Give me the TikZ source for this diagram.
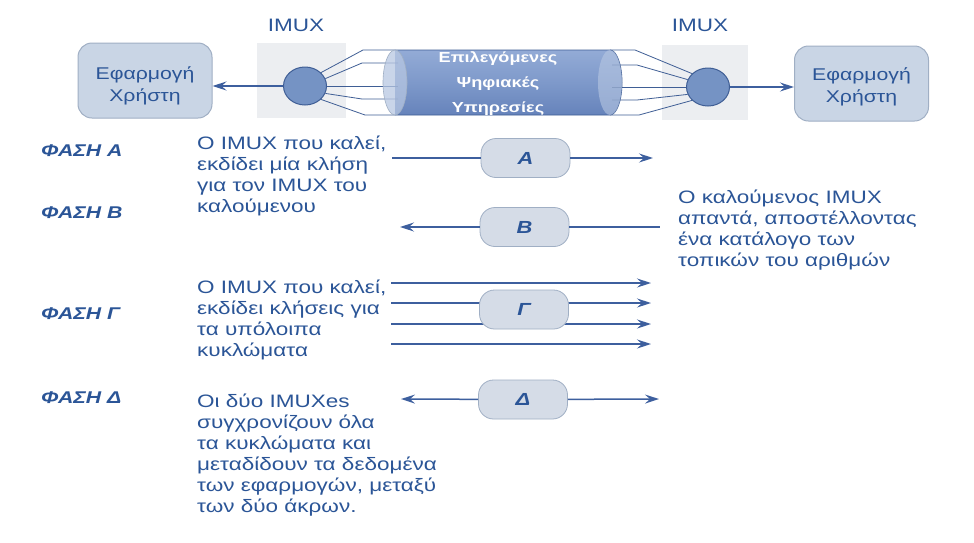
\documentclass[tikz,border=0pt]{standalone}
\usepackage{fontspec}
\setmainfont{Liberation Sans}[FakeStretch=1.25]
\usetikzlibrary{arrows.meta,shapes.geometric,calc}
\definecolor{tblue}{HTML}{2B5597}
\definecolor{lblue}{HTML}{3D5F9E}
\definecolor{boxfill}{HTML}{C9D5E5}
\definecolor{boxdraw}{HTML}{A0AFC4}
\definecolor{pillfill}{HTML}{D5DCE7}
\definecolor{ellfill}{HTML}{7593C4}
\definecolor{ellline}{HTML}{3F5E95}
\definecolor{imuxbg}{HTML}{ECEEF1}
\definecolor{cyltop}{HTML}{93ABD6}
\definecolor{cylmid}{HTML}{7E99CA}
\definecolor{cylbot}{HTML}{6683BB}
\definecolor{cylend}{HTML}{B7C7E2}
\newcommand{\fl}{\rule{0pt}{15pt}}
\tikzset{
  appbox/.style={draw=boxdraw, fill=boxfill, rounded corners=14pt, minimum width=134pt, minimum height=75pt, line width=1pt},
  apptext/.style={align=center, text=tblue, font=\fontsize{17}{22}\selectfont},
  pill/.style={draw=boxdraw, fill=pillfill, rounded corners=15pt, minimum width=89pt, minimum height=39pt, line width=0.8pt, text=tblue, font=\fontsize{17.5}{17.5}\selectfont\bfseries\itshape},
  phase/.style={anchor=base west, inner sep=0pt, text=tblue, font=\fontsize{17}{17}\selectfont\bfseries\itshape},
  desc/.style={anchor=north west, inner sep=0pt, align=left, text=tblue, font=\fontsize{18}{21}\selectfont},
  imuxsq/.style={fill=imuxbg, minimum height=75pt, inner sep=0pt},
  mux/.style={ellipse, draw=ellline, fill=ellfill, minimum width=43pt, minimum height=38pt, inner sep=0pt, line width=1pt},
  conn/.style={draw=lblue, line width=1.5pt},
  arr/.style={-{Stealth[length=14pt,width=9pt,inset=5pt]}},
  fan/.style={draw=ellline, line width=0.8pt},
  lbl/.style={text=tblue, font=\fontsize{18}{18}\selectfont}
}
\begin{document}
\begin{tikzpicture}[x=1pt,y=-1pt]
\fill[white] (0,0) rectangle (974,542);
\useasboundingbox (0,0) rectangle (974,542);

% top row
\node[appbox] (appL) at (145,80.5) {};
\node[apptext] (appLt) at ($(appL.center)+(0,5)$) {Εφαρμογή\\Χρήστη};
\node[appbox] (appR) at (861.5,83.5) {};
\node[apptext] (appRt) at ($(appR.center)+(0,3)$) {Εφαρμογή\\Χρήστη};
\node[imuxsq, minimum width=89pt] (sqL) at (301.5,80.5) {};
\node[imuxsq, minimum width=86pt] (sqR) at (705,82.5) {};
\node[lbl] (imuxL) at (296,25) {IMUX};
\node[lbl] (imuxR) at (700,25) {IMUX};

% cylinder body
\shade[top color=cyltop, bottom color=cylbot, middle color=cylmid] (395,50) -- (610,50) arc[start angle=90, end angle=-90, x radius=12, y radius=-32.5] -- (395,115) -- cycle;
\draw[fan] (395,50) -- (610,50) arc[start angle=90, end angle=-90, x radius=12, y radius=-32.5] -- (395,115);

\node[mux] (ellL) at (305,86) {};
\node[mux] (ellR) at (708,87) {};

% fan lines left
\draw[fan] (ellL.40) -- (363,50) -- (395,50);
\draw[fan] (ellL.20) -- (362,63) -- (398,63);
\draw[fan] (ellL.0) -- (398,86);
\draw[fan] (ellL.-20) -- (362,99) -- (398,99);
\draw[fan] (ellL.-40) -- (365,115) -- (395,115);
% fan lines right
\draw[fan] (610,50) -- (635,50) -- (ellR.140);
\draw[fan] (612,65) -- (637,65) -- (ellR.160);
\draw[fan] (612,87) -- (ellR.180);
\draw[fan] (612,100) -- (637,100) -- (ellR.200);
\draw[fan] (610,115) -- (639,115) -- (ellR.220);

% cylinder end faces
\fill[cylend, opacity=0.75] (395,82.5) ellipse[x radius=12, y radius=32.5];
\draw[boxdraw, line width=0.6pt] (395,82.5) ellipse[x radius=12, y radius=32.5];
\fill[cylend, opacity=0.6] (610,82.5) ellipse[x radius=12, y radius=32.5];
\node[text=white, align=center, font=\fontsize{14.5}{25}\selectfont\bfseries] (cyl) at (498,84) {Επιλεγόμενες\\Ψηφιακές\\Υπηρεσίες};

\draw[conn, arr] (ellL.west) -- (ellL.west -| appL.east);
\draw[conn, arr] (ellR.east) -- (ellR.east -| appR.west);

% phase labels
\node[phase] (phA) at (41,156.5) {ΦΑΣΗ Α};
\node[phase] (phB) at (41,218.5) {ΦΑΣΗ Β};
\node[phase] (phC) at (41,319.5) {ΦΑΣΗ Γ};
\node[phase] (phD) at (41,403.5) {ΦΑΣΗ Δ};

% descriptions
\node[desc] (dA) at (197,134.5) {\fl Ο IMUX που καλεί,\\εκδίδει μία κλήση\\για τον IMUX του\\καλούμενου};
\node[desc] (dB) at (678,188.5) {\fl Ο καλούμενος IMUX\\απαντά, αποστέλλοντας\\ένα κατάλογο των\\τοπικών του αριθμών};
\node[desc] (dC) at (197,278.5) {\fl Ο IMUX που καλεί,\\εκδίδει κλήσεις για\\τα υπόλοιπα\\κυκλώματα};
\node[desc] (dD) at (197,392.5) {\fl Οι δύο IMUXes\\συγχρονίζουν όλα\\τα κυκλώματα και\\μεταδίδουν τα δεδομένα\\των εφαρμογών, μεταξύ\\των δύο άκρων.};

% phase A
\node[pill] (pA) at (525.5,158) {Α};
\coordinate (a0) at (392,158);
\coordinate (a1) at (653,158);
\draw[conn] (a0) -- (pA);
\draw[conn, arr] (pA) -- (a1);

% phase B
\node[pill] (pB) at (524.5,227) {Β};
\coordinate (b0) at (400,227);
\coordinate (b1) at (660,227);
\draw[conn, arr] (pB) -- (b0);
\draw[conn] (pB) -- (b1);

% phase C
\coordinate (g1s) at (391,283); \coordinate (g1e) at (651,283);
\coordinate (g2s) at (391,303); \coordinate (g2e) at (651,303);
\coordinate (g3s) at (391,324); \coordinate (g3e) at (651,324);
\coordinate (g4s) at (391,344); \coordinate (g4e) at (651,344);
\draw[conn, arr] (g1s) -- (g1e);
\draw[conn, arr] (g2s) -- (g2e);
\draw[conn, arr] (g3s) -- (g3e);
\draw[conn, arr] (g4s) -- (g4e);
\node[pill] (pC) at (524,309.5) {Γ};

% phase D
\node[pill] (pD) at (523,399.5) {Δ};
\coordinate (d0) at (401,399);
\coordinate (d1) at (659,399);
\draw[conn, arr] (pD) -- (d0);
\draw[conn, arr] (pD) -- (d1);
\end{tikzpicture}
\end{document}
